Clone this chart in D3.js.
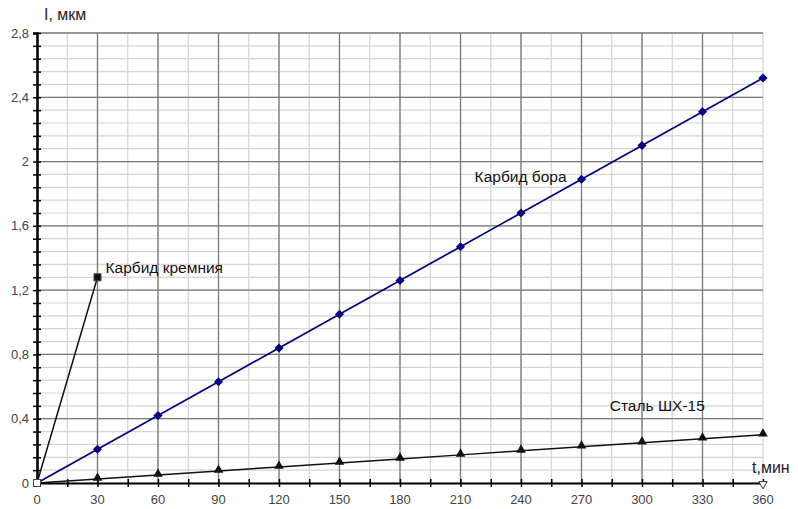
<!DOCTYPE html>
<html>
<head>
<meta charset="utf-8">
<script src="https://cdn.jsdelivr.net/npm/d3@7"></script>
<style>
  body { margin: 0; background: #fff; }
  text { font-family: "Liberation Sans", Arial, sans-serif; }
</style>
</head>
<body>
<div id="grafico"></div>
<script>
// data
const minutes = [0, 30, 60, 90, 120, 150, 180, 210, 240, 270, 300, 330, 360];
const borCarbide = [0, 0.21, 0.42, 0.63, 0.84, 1.05, 1.26, 1.47, 1.68, 1.89, 2.10, 2.31, 2.52];
const steel = [0, 0.025, 0.05, 0.075, 0.10, 0.125, 0.15, 0.175, 0.20, 0.225, 0.25, 0.275, 0.30];
const siliconMinutes = [0, 30];
const siliconCarbide = [0, 1.28];
const yTicks = [0, 0.4, 0.8, 1.2, 1.6, 2, 2.4, 2.8];
const xTicks = [0, 30, 60, 90, 120, 150, 180, 210, 240, 270, 300, 330, 360];

const margin = { top: 33, left: 37, bottom: 26, right: 35 };
const width  = 798 - margin.left - margin.right;
const height = 509 - margin.top - margin.bottom;

const svg = d3.select("#grafico")
              .append("svg")
              .attr("width", 798)
              .attr("height", 509)
              .append("g")
              .attr("transform", `translate(${margin.left}, ${margin.top})`);

const xScale = d3.scaleLinear().domain([0, 360]).range([0, width]);
const yScale = d3.scaleLinear().domain([0, 2.8]).range([height, 0]);

const fmt = d => String(d).replace(".", ",");

// minor grid
const xMinor = d3.range(0, 361, 15);
const yMinor = d3.range(0, 36).map(i => i * 0.08);

svg.append("g").selectAll("line")
   .data(xMinor)
   .join("line")
   .attr("x1", d => xScale(d)).attr("x2", d => xScale(d))
   .attr("y1", 0).attr("y2", height)
   .attr("stroke", "#d4d4d4").attr("stroke-width", 1.2);

svg.append("g").selectAll("line")
   .data(yMinor)
   .join("line")
   .attr("x1", 0).attr("x2", width)
   .attr("y1", d => yScale(d)).attr("y2", d => yScale(d))
   .attr("stroke", "#d4d4d4").attr("stroke-width", 1.2);

// major grid
svg.append("g").selectAll("line")
   .data(xTicks.slice(1, -1))
   .join("line")
   .attr("x1", d => xScale(d)).attr("x2", d => xScale(d))
   .attr("y1", 0).attr("y2", height)
   .attr("stroke", "#7a7a7a").attr("stroke-width", 1.3);

svg.append("g").selectAll("line")
   .data(yTicks.slice(1))
   .join("line")
   .attr("x1", 0).attr("x2", width)
   .attr("y1", d => yScale(d)).attr("y2", d => yScale(d))
   .attr("stroke", "#7a7a7a").attr("stroke-width", 1.3);

// axes
const yAxisLeft = d3.axisLeft(yScale).tickValues(yMinor).tickSize(4).tickFormat("");
const yAxisG = svg.append("g").call(yAxisLeft);
yAxisG.selectAll(".tick line").attr("x2", 4).attr("x1", -4).attr("stroke-width", 1.5);
yAxisG.select(".domain").attr("stroke-width", 2.5);

svg.append("g").selectAll("text")
   .data(yTicks)
   .join("text")
   .attr("x", -8)
   .attr("y", d => yScale(d) + 4.5)
   .attr("text-anchor", "end")
   .attr("font-size", 13)
   .attr("fill", "#444")
   .text(fmt);

const xAxisBottom = d3.axisBottom(xScale).tickValues(xMinor).tickSize(4).tickFormat("");
const xAxisG = svg.append("g").attr("transform", `translate(0, ${height})`).call(xAxisBottom);
xAxisG.selectAll(".tick line").attr("y1", -4).attr("y2", 4).attr("stroke-width", 1.5);
xAxisG.select(".domain").attr("stroke-width", 2);

svg.append("g").selectAll("text")
   .data(xTicks)
   .join("text")
   .attr("x", d => xScale(d))
   .attr("y", height + 21)
   .attr("text-anchor", "middle")
   .attr("font-size", 13)
   .attr("fill", "#444")
   .text(fmt);

// small open arrow at x axis end
svg.append("path")
   .attr("d", d3.symbol(d3.symbolTriangle, 30)())
   .attr("transform", `translate(${xScale(360)}, ${height + 1}) rotate(180)`)
   .attr("fill", "#fff").attr("stroke", "#333").attr("stroke-width", 1);

// series
const line = d3.line().x(d => xScale(d[0])).y(d => yScale(d[1]));

const borData = minutes.map((m, i) => [m, borCarbide[i]]);
const steelData = minutes.map((m, i) => [m, steel[i]]);
const silData = siliconMinutes.map((m, i) => [m, siliconCarbide[i]]);

svg.append("path").datum(silData).attr("d", line)
   .attr("fill", "none").attr("stroke", "#111").attr("stroke-width", 1.5);
svg.append("path").datum(steelData).attr("d", line)
   .attr("fill", "none").attr("stroke", "#111").attr("stroke-width", 1.5);
svg.append("path").datum(borData).attr("d", line)
   .attr("fill", "none").attr("stroke", "#000080").attr("stroke-width", 1.7);

svg.append("g").selectAll("path")
   .data(borData.slice(1))
   .join("path")
   .attr("d", d3.symbol(d3.symbolSquare, 42)())
   .attr("transform", d => `translate(${xScale(d[0])}, ${yScale(d[1])}) rotate(45)`)
   .attr("fill", "#000080");

svg.append("g").selectAll("path")
   .data(steelData.slice(1))
   .join("path")
   .attr("d", d3.symbol(d3.symbolTriangle, 40)())
   .attr("transform", d => `translate(${xScale(d[0])}, ${yScale(d[1]) - 1})`)
   .attr("fill", "#111");

svg.append("g").selectAll("rect")
   .data(silData)
   .join("rect")
   .attr("x", d => xScale(d[0]) - 3.5)
   .attr("y", d => yScale(d[1]) - 3.5)
   .attr("width", 7).attr("height", 7)
   .attr("fill", (d, i) => i === 0 ? "#fff" : "#111")
   .attr("stroke", "#444").attr("stroke-width", 1);

// labels
const labels = [
  { text: "Карбид кремния", x: 34, y: 1.305 },
  { text: "Карбид бора", x: 217, y: 1.87 },
  { text: "Сталь ШХ-15", x: 284, y: 0.45 }
];
svg.append("g").selectAll("text")
   .data(labels)
   .join("text")
   .attr("x", d => xScale(d.x))
   .attr("y", d => yScale(d.y))
   .attr("font-size", 15.5)
   .attr("fill", "#111")
   .text(d => d.text);

svg.append("text")
   .attr("x", 7).attr("y", -13)
   .attr("font-size", 16).attr("fill", "#222")
   .text("I, мкм");

svg.append("text")
   .attr("x", width - 11).attr("y", height - 10)
   .attr("font-size", 16).attr("fill", "#222")
   .text("t,мин");
</script>
</body>
</html>
